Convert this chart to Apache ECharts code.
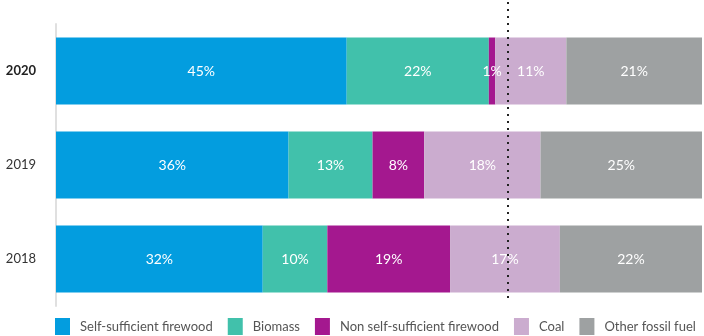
<!DOCTYPE html>
<html><head><meta charset="utf-8">
<script src="https://cdn.jsdelivr.net/npm/echarts@6/dist/echarts.min.js"></script>
<style>html,body{margin:0;padding:0;background:#fff}#c{width:704px;height:336px}</style>
</head><body><div id="c"></div>
<script>
const years = ['2018', '2019', '2020'];
const seriesNames = ['Self-sufficient firewood', 'Biomass', 'Non self-sufficient firewood', 'Coal', 'Other fossil fuel'];
const selfFirewood = [32, 36, 45];
const biomass = [10, 13, 22];
const nonSelfFirewood = [19, 8, 1];
const coal = [17, 18, 11];
const otherFossil = [22, 25, 21];
const refLineValue = 70;

const values = [selfFirewood, biomass, nonSelfFirewood, coal, otherFossil];
const colors = ['#039DDF', '#41C1AB', '#A4188F', '#CBACCF', '#9EA1A2'];

const chart = echarts.init(document.getElementById('c'));
const series = seriesNames.map((n, i) => ({
  name: n, type: 'bar', stack: 'total', barWidth: 67,
  xAxisIndex: 0, yAxisIndex: 0,
  itemStyle: { color: colors[i] },
  label: { show: true, position: 'inside', color: '#fff', fontSize: 14, fontFamily: 'Lato', formatter: p => p.value + '%' },
  data: values[i]
}));
series.push({
  type: 'line', xAxisIndex: 1, yAxisIndex: 1, data: [], silent: true,
  markLine: {
    symbol: 'none', silent: true, label: { show: false },
    lineStyle: { type: [2, 5], color: '#222', width: 2 },
    data: [{ xAxis: refLineValue }]
  }
});
chart.setOption({
  animation: false,
  grid: [
    { left: 56, right: 2, top: 24, bottom: 30 },
    { left: 56, right: 2, top: 0, bottom: 38 }
  ],
  xAxis: [
    { type: 'value', min: 0, max: 100, show: false, gridIndex: 0 },
    { type: 'value', min: 0, max: 100, show: false, gridIndex: 1 }
  ],
  yAxis: [
    { type: 'category', data: years, gridIndex: 0,
      axisLine: { show: true, lineStyle: { color: '#e0e0e0', width: 2 } },
      axisTick: { show: false }, splitLine: { show: false },
      axisLabel: { margin: 20, fontSize: 13, fontFamily: 'Lato', color: '#333',
        formatter: v => v === '2020' ? '{b|' + v + '}' : v,
        rich: { b: { fontWeight: 'bold', fontSize: 13, fontFamily: 'Lato', color: '#222' } } } },
    { type: 'value', min: 0, max: 1, show: false, gridIndex: 1 }
  ],
  legend: {
    data: seriesNames, left: 50, top: 313, itemWidth: 15, itemHeight: 17, itemGap: 15,
    icon: 'rect', textStyle: { fontSize: 13, fontFamily: 'Lato', color: '#555', padding: [0, 0, 0, 5] }
  },
  series: series
});
</script></body></html>
